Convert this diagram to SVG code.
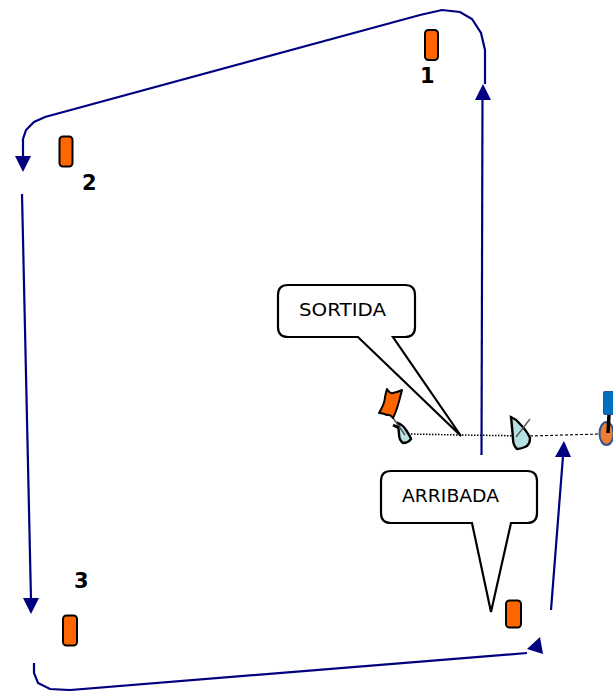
<svg xmlns="http://www.w3.org/2000/svg" width="613" height="691" viewBox="0 0 613 691">
<style>
.c{fill:none;stroke:#000080;stroke-width:2.200}
.h{fill:#000080}
.b{fill:#ff6600;stroke:#000;stroke-width:2}
.n{font:bold 21px "DejaVu Sans",sans-serif;fill:#000}
.t{font:18px "DejaVu Sans",sans-serif;fill:#000}
.s{fill:#fff;stroke:#000;stroke-width:2.200;stroke-linejoin:miter}
.sail{fill:#b7e0e3;stroke:#000;stroke-width:2.400}
</style>
<rect width="613" height="691" fill="#fff"/>
<g id="connectors">
<path class="c" d="M481.500 455L482.500 98"/><path class="h" d="M483 84L491 100H475Z"/>
<path class="c" d="M485 84V50L481 33L472 19L460 12L442 10L420 15L45 117L34 122L26 130L23 139V157"/><path class="h" d="M23 172L15 156H31Z"/>
<path class="c" d="M22 194L31 600"/><path class="h" d="M31 614L23 598H39Z"/>
<path class="c" d="M34 663V673L38 683L50 689L70 690L527 653"/><path class="h" d="M540 637L543 654L527 649Z"/>
<path class="c" d="M551 610L563 456"/><path class="h" d="M564 441L571 457H555Z"/>
</g>
<g id="course" fill="none" stroke="#000">
<path d="M408 434L461 435L530 436" stroke-width="1.500" stroke-dasharray="1.500 1.500"/>
<path d="M530 436L600 434" stroke-width="1.100" stroke-dasharray="3 2"/>
</g>
<g id="mark-1"><rect class="b" x="425" y="30" width="13" height="30" rx="3.500"/><text class="n" x="420" y="83">1</text></g>
<g id="mark-2"><rect class="b" x="59.500" y="136.500" width="13" height="30" rx="3.500"/><text class="n" x="82" y="190">2</text></g>
<g id="mark-3"><rect class="b" x="63" y="615.500" width="14" height="30" rx="3.500"/><text class="n" x="74" y="588">3</text></g>
<g id="mark-4"><rect class="b" x="506" y="600.500" width="15" height="27" rx="3.500"/></g>
<g id="sortida"><path class="s" d="M288 285H405Q415 285 415 295V327Q415 337 405 337H393L461 436L358 337H288Q278 337 278 327V295Q278 285 288 285Z"/><text class="t" x="299" y="316" textLength="87" lengthAdjust="spacingAndGlyphs">SORTIDA</text></g>
<g id="arribada"><path class="s" d="M391 471H527Q537 471 537 481V513Q537 523 527 523H511L491 612L472 523H391Q381 523 381 513V481Q381 471 391 471Z"/><text class="t" x="402" y="502" textLength="97" lengthAdjust="spacingAndGlyphs">ARRIBADA</text></g>
<g id="boat-left">
<path class="sail" stroke-width="1.600" d="M398 423Q403 425 406 430Q410 436 411 439Q408 443 403 443Q399 440 399 434Z"/>
<path d="M393 418L405 435" stroke="#555" stroke-width="1.500"/>
<path class="b" stroke-width="2.400" stroke-linejoin="round" d="M387 389Q390 394 393 393Q398 392 402 390Q400 398 398 405Q396 412 393 418Q390 414 387 415Q383 413 379 413Q385 403 385 397Q386 392 387 389Z"/>
<path d="M393 425L399 428" stroke="#000" stroke-width="3"/>
</g>
<g id="boat-mid">
<path class="sail" d="M511 417Q516 419 520 424Q527 431 530 438Q530 445 525 447Q520 449 517 449Q513 445 513 439Q512 426 511 417Z"/>
<path d="M516 437L530 419" stroke="#555" stroke-width="1.300"/>
</g>
<g id="committee">
<rect x="603.500" y="391.500" width="11" height="23" rx="1" fill="#0070c0" stroke="#2f5597"/>
<ellipse cx="606.500" cy="433.500" rx="7" ry="11.500" fill="#ed7d31" stroke="#2f5597" stroke-width="2"/>
<path d="M609 415L608 433" stroke="#000" stroke-width="3.500"/>
</g>
</svg>
